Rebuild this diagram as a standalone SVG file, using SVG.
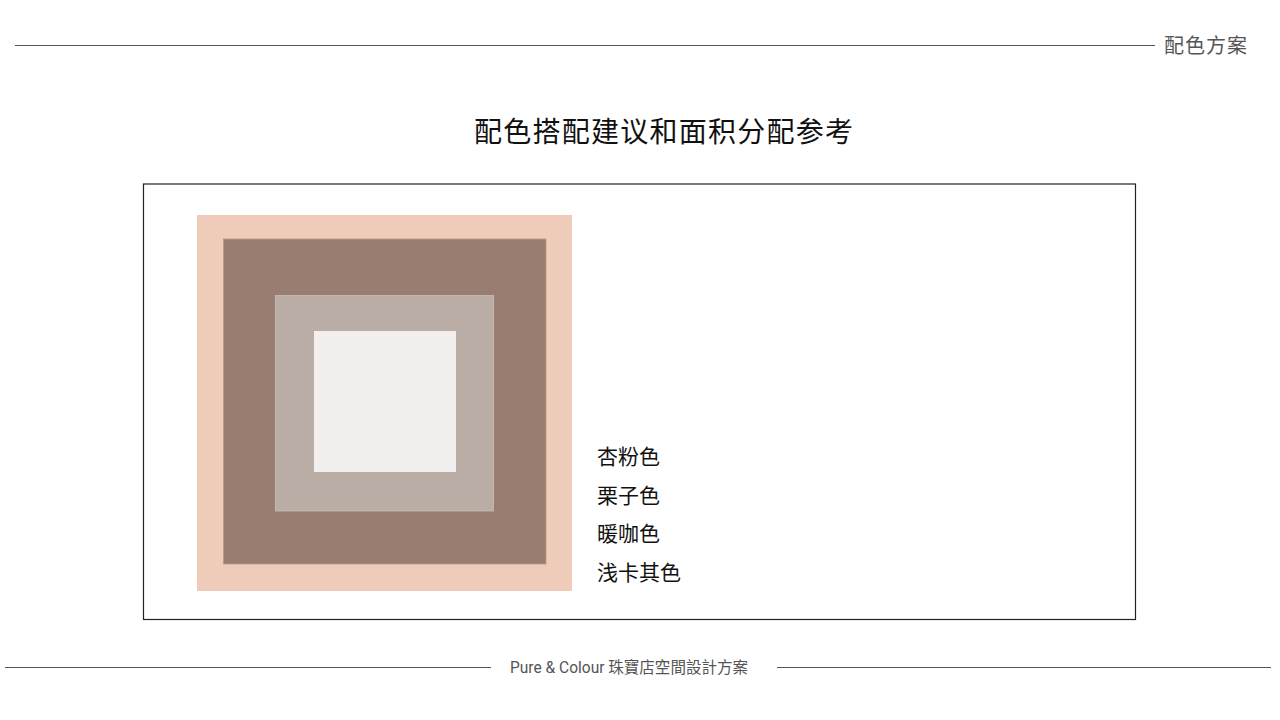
<svg xmlns="http://www.w3.org/2000/svg" width="1280" height="720" viewBox="0 0 1280 720">
<style>
.cjk{font-family:"Noto Sans CJK SC","Noto Sans",sans-serif}
.rule{stroke:#555;stroke-width:1.2;fill:none}
.lbl{font-size:21px;fill:#111}
</style>
<rect width="1280" height="720" fill="#fff"/>
<g id="header">
<line class="rule" x1="15" y1="45.5" x2="1155" y2="45.5"/>
<text class="cjk" x="1164" y="53" font-size="20" letter-spacing="1" fill="#555">配色方案</text>
</g>
<g id="title">
<text class="cjk" x="474" y="142" font-size="28" textLength="379" lengthAdjust="spacing" fill="#111">配色搭配建议和面积分配参考</text>
</g>
<g id="frame">
<rect x="143.5" y="184" width="992" height="435.5" fill="#fff" stroke="#222" stroke-width="1.2"/>
</g>
<g id="swatches">
<rect id="apricot" x="197" y="215" width="375" height="376" fill="#EFCCB9"/>
<rect id="chestnut" x="223.5" y="239" width="322.5" height="325" fill="#9A7D71" stroke="#B8988A" stroke-width="0.8"/>
<rect id="mocha" x="275.5" y="295.5" width="218" height="215.5" fill="#B9ADA6" stroke="#C9BDB6" stroke-width="0.8"/>
<rect id="khaki" x="314" y="331" width="142" height="141" fill="#F3EFEE"/>
</g>
<g id="labels">
<text class="cjk lbl" x="597" y="464">杏粉色</text>
<text class="cjk lbl" x="597" y="502.5">栗子色</text>
<text class="cjk lbl" x="597" y="541">暖咖色</text>
<text class="cjk lbl" x="597" y="579.5">浅卡其色</text>
</g>
<g id="footer">
<line class="rule" x1="5" y1="667.5" x2="491" y2="667.5"/>
<line class="rule" x1="777" y1="667.5" x2="1271" y2="667.5"/>
<text x="510" y="673" font-family="Roboto,'Noto Sans CJK TC',sans-serif" font-size="16" textLength="238" lengthAdjust="spacingAndGlyphs" fill="#555">Pure &amp; Colour 珠寶店空間設計方案</text>
</g>
</svg>
